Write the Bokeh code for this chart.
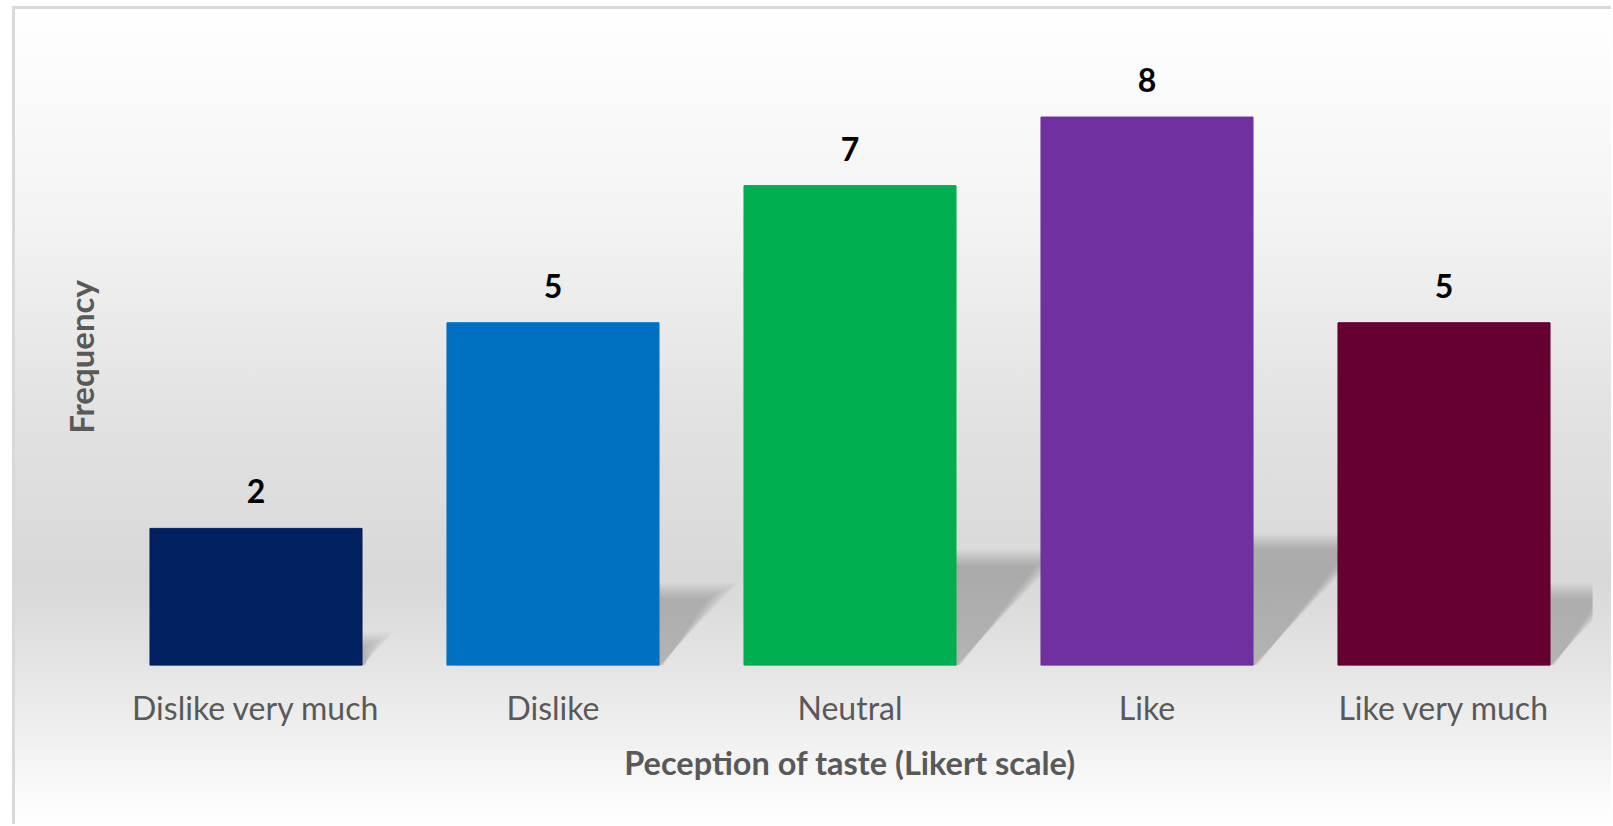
from bokeh.plotting import figure
from bokeh.models import Range1d, FixedTicker, ColumnDataSource
from bokeh.core.properties import value
from bokeh.embed import file_html
from bokeh.resources import INLINE

# ---- data ----
categories = ["Dislike very much", "Dislike", "Neutral", "Like", "Like very much"]
frequencies = [2, 5, 7, 8, 5]
bar_colors = ["#002060", "#0070C0", "#00B050", "#7030A0", "#660033"]
x_title = "Peception of taste (Likert scale)"
y_title = "Frequency"
y_max = 9

# ---- layout ----
FONT = "Lato"
W, H = 1599, 818
BL, BR, BT, BB = 95, 19, 42, 159
frame_w = W - BL - BR
frame_h = H - BT - BB
px_per_cat = frame_w / len(categories)
px_per_unit = frame_h / y_max
BAR_W = 0.714

p = figure(width=W, height=H, output_backend="svg", toolbar_location=None,
           x_range=Range1d(-0.5, len(categories) - 0.5), y_range=Range1d(0, y_max),
           min_border_left=BL, min_border_right=BR, min_border_top=BT, min_border_bottom=BB)
p.background_fill_color = None
p.border_fill_color = None
p.outline_line_color = None
p.grid.visible = False
p.styles = {
    "background": "linear-gradient(to bottom, #ffffff 0%, #f4f4f4 25%, #e2e2e2 50%, #d8d8d8 70%, #e6e6e6 82%, #ffffff 100%)",
    "box-shadow": "inset 3px 3px 0 0 #d9d9d9",
    "margin-left": "12px",
    "margin-top": "6px",
}

xs = list(range(len(categories)))

# ---- perspective shadows (soft, layered) ----
layers = 7
step = 2.5
for i, v in zip(xs, frequencies):
    h_px = 0.24 * v * px_per_unit
    dx_px = 0.95 * h_px
    xl_px = -BAR_W / 2 * px_per_cat
    xr_px = BAR_W / 2 * px_per_cat
    pxs, pys = [], []
    for j in range(layers):
        ins = j * step
        top = max(h_px - ins, 0)
        sh = dx_px * top / h_px
        poly_x = [xl_px + ins, xr_px + ins * 0.3, xr_px + sh - ins, xl_px + sh + ins]
        poly_y = [0, 0, top, top]
        pxs.append([i + q / px_per_cat for q in poly_x])
        pys.append([q / px_per_unit for q in poly_y])
    p.patches(xs=pxs, ys=pys, fill_color="#000000", fill_alpha=0.032, line_color=None)

# ---- bars ----
src = ColumnDataSource(dict(x=xs, top=frequencies, color=bar_colors,
                            label=[str(v) for v in frequencies]))
p.vbar(x="x", top="top", width=BAR_W, fill_color="color", line_color="color", source=src)

p.text(x="x", y="top", text="label", source=src, text_align="center", text_baseline="bottom",
       y_offset=-25, text_font=value(FONT), text_font_style="bold", text_font_size="32px",
       text_color="#000000")

# ---- axes ----
xa = p.xaxis[0]
xa.ticker = FixedTicker(ticks=xs)
xa.major_label_overrides = {i: c for i, c in zip(xs, categories)}
xa.major_tick_out = 0
xa.major_tick_in = 0
xa.minor_tick_out = 0
xa.minor_tick_in = 0
xa.axis_line_color = None
xa.major_label_text_font = FONT
xa.major_label_text_font_size = "32px"
xa.major_label_text_color = "#595959"
xa.major_label_standoff = 22
xa.axis_label = x_title
xa.axis_label_text_font = FONT
xa.axis_label_text_font_style = "bold"
xa.axis_label_text_font_size = "32.5px"
xa.axis_label_text_color = "#595959"
xa.axis_label_standoff = 13

ya = p.yaxis[0]
ya.ticker = FixedTicker(ticks=[])
ya.major_tick_out = 0
ya.major_tick_in = 0
ya.minor_tick_out = 0
ya.minor_tick_in = 0
ya.axis_line_color = None
ya.axis_label = y_title
ya.axis_label_text_font = FONT
ya.axis_label_text_font_style = "bold"
ya.axis_label_text_font_size = "33px"
ya.axis_label_text_color = "#595959"
ya.axis_label_standoff = 7

open("out.html", "w").write(file_html(p, INLINE))
